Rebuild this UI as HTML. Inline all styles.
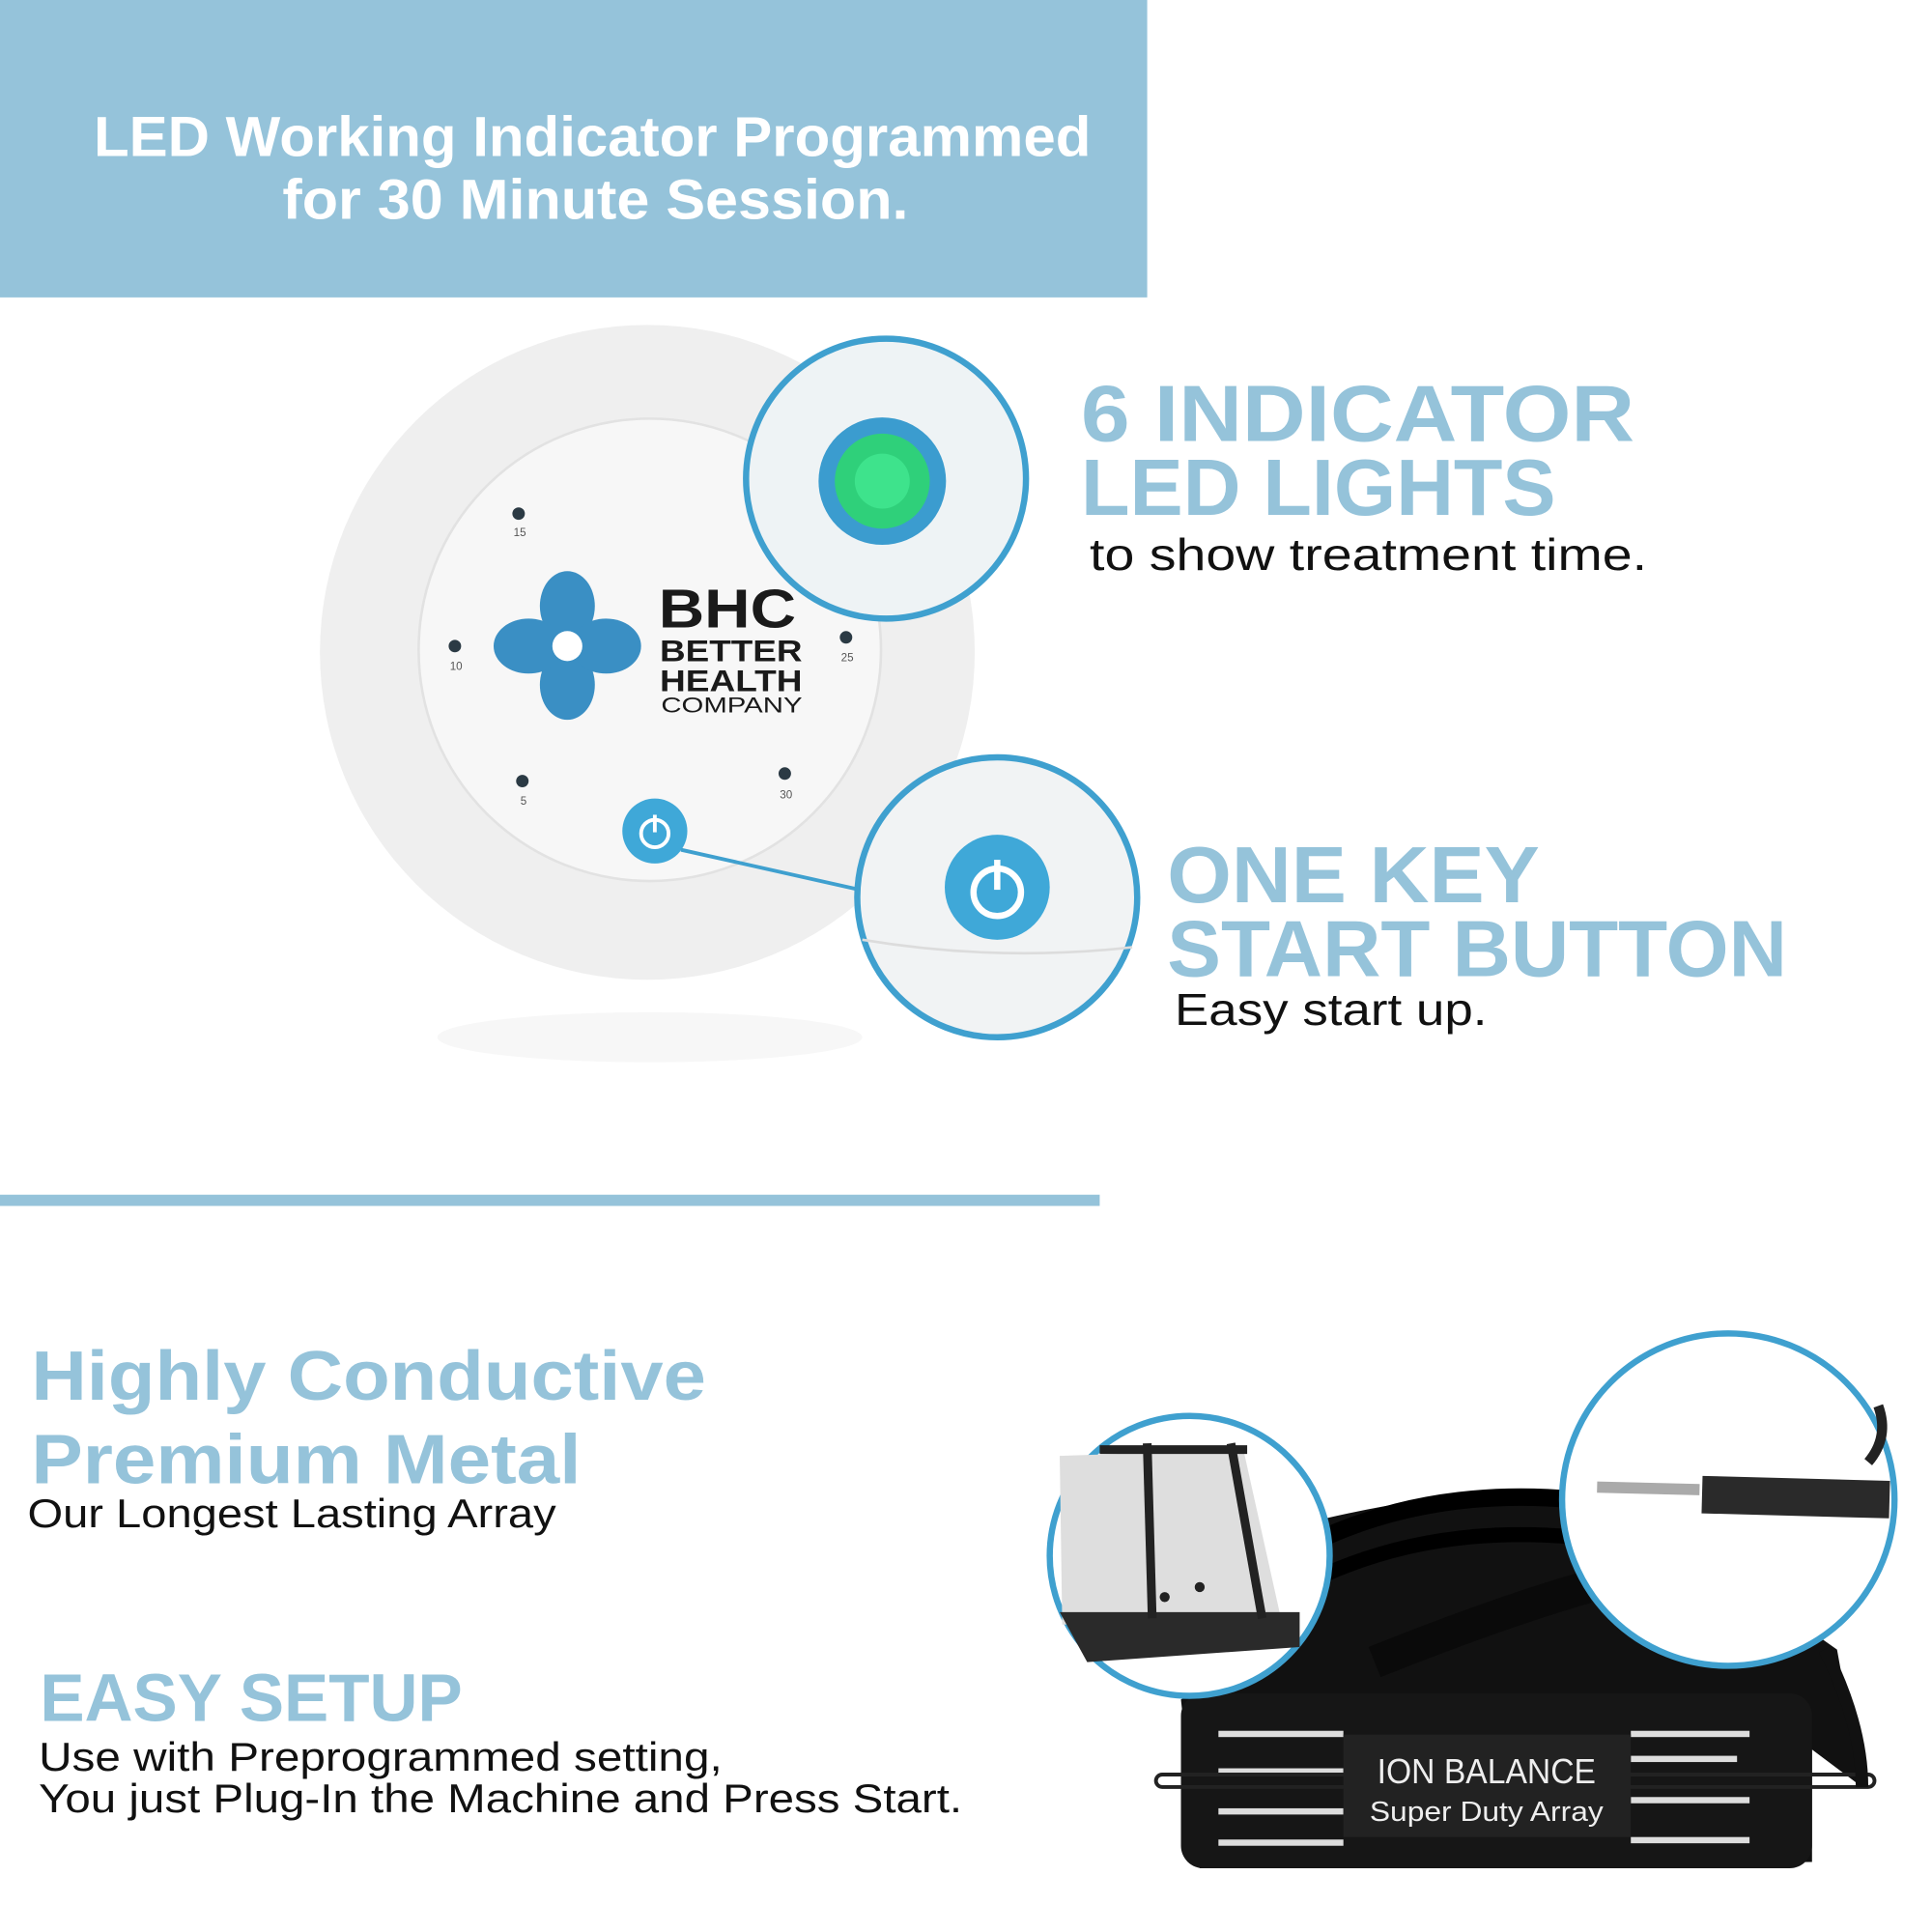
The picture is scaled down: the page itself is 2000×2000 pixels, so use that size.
<!DOCTYPE html>
<html><head><meta charset="utf-8"><style>
html,body{margin:0;padding:0;background:#fff;}
svg{display:block;}
text{font-family:"Liberation Sans",sans-serif;}
</style></head><body>
<svg width="2000" height="2000" viewBox="0 0 1546 1546" xmlns="http://www.w3.org/2000/svg">
<rect width="1546" height="1546" fill="#fff"/>
<rect x="0" y="0" width="918" height="238" fill="#95c3da"/>
<text x="75" y="125" font-size="45" font-weight="bold" fill="#fff" textLength="798" lengthAdjust="spacingAndGlyphs">LED Working Indicator Programmed</text>
<text x="226" y="175" font-size="45" font-weight="bold" fill="#fff" textLength="501" lengthAdjust="spacingAndGlyphs">for 30 Minute Session.</text>

<!-- device -->
<ellipse cx="520" cy="830" rx="170" ry="20" fill="#f7f7f7"/>
<circle cx="518" cy="522" r="262" fill="#efefef"/>
<circle cx="520" cy="520" r="185" fill="#f7f7f7" stroke="#e2e2e2" stroke-width="2"/>
<g fill="#2b3a44">
<circle cx="415" cy="411" r="5"/><circle cx="364" cy="517" r="5"/><circle cx="677" cy="510" r="5"/>
<circle cx="418" cy="625" r="5"/><circle cx="628" cy="619" r="5"/>
</g>
<g font-size="9" fill="#555" text-anchor="middle">
<text x="416" y="429">15</text><text x="365" y="536">10</text><text x="678" y="529">25</text>
<text x="419" y="644">5</text><text x="629" y="639">30</text>
</g>
<g fill="#3a8fc4">
<ellipse cx="454" cy="485" rx="22" ry="28"/>
<ellipse cx="454" cy="548" rx="22" ry="28"/>
<ellipse cx="423" cy="517" rx="28" ry="22"/>
<ellipse cx="485" cy="517" rx="28" ry="22"/>
</g>
<circle cx="454" cy="517" r="12" fill="#fff"/>
<text x="527" y="502" font-size="44" font-weight="bold" fill="#1a1a1a" textLength="110" lengthAdjust="spacingAndGlyphs">BHC</text>
<text x="528" y="529" font-size="24" font-weight="bold" fill="#1a1a1a" textLength="114" lengthAdjust="spacingAndGlyphs">BETTER</text>
<text x="528" y="553" font-size="24" font-weight="bold" fill="#1a1a1a" textLength="114" lengthAdjust="spacingAndGlyphs">HEALTH</text>
<text x="529" y="570" font-size="17" fill="#1a1a1a" textLength="113" lengthAdjust="spacingAndGlyphs">COMPANY</text>
<circle cx="524" cy="665" r="26" fill="#3fa8d8"/>
<circle cx="524" cy="667" r="11" fill="none" stroke="#fff" stroke-width="3"/>
<line x1="524" y1="652" x2="524" y2="666" stroke="#fff" stroke-width="3"/>
<line x1="545" y1="680" x2="688" y2="712" stroke="#3fa0cf" stroke-width="3"/>

<circle cx="709" cy="383" r="112" fill="#eef3f5" stroke="#3fa0cf" stroke-width="5"/>
<circle cx="706" cy="385" r="51" fill="#3b9ccf"/>
<circle cx="706" cy="385" r="38" fill="#2fd07a"/>
<circle cx="706" cy="385" r="22" fill="#3ee38c"/>
<circle cx="798" cy="718" r="112" fill="#f1f3f4" stroke="#3fa0cf" stroke-width="5"/>
<path d="M690 752 Q798 770 906 758" stroke="#dcdcdc" stroke-width="2" fill="none"/>
<circle cx="798" cy="710" r="42" fill="#3fa8d8"/>
<circle cx="798" cy="714" r="19" fill="none" stroke="#fff" stroke-width="5"/>
<line x1="798" y1="688" x2="798" y2="712" stroke="#fff" stroke-width="5"/>

<g font-weight="bold" fill="#95c3da" font-size="64">
<text x="865" y="353" textLength="443" lengthAdjust="spacingAndGlyphs">6 INDICATOR</text>
<text x="865" y="412" textLength="380" lengthAdjust="spacingAndGlyphs">LED LIGHTS</text>
<text x="934" y="722" textLength="298" lengthAdjust="spacingAndGlyphs">ONE KEY</text>
<text x="934" y="781" textLength="496" lengthAdjust="spacingAndGlyphs">START BUTTON</text>
</g>
<text x="872" y="456" font-size="36" fill="#111" textLength="446" lengthAdjust="spacingAndGlyphs">to show treatment time.</text>
<text x="940" y="820" font-size="36" fill="#111" textLength="250" lengthAdjust="spacingAndGlyphs">Easy start up.</text>

<rect x="0" y="956" width="880" height="9" fill="#95c3da"/>

<g font-weight="bold" fill="#95c3da">
<text x="25" y="1120" font-size="56" textLength="540" lengthAdjust="spacingAndGlyphs">Highly Conductive</text>
<text x="25" y="1187" font-size="56" textLength="440" lengthAdjust="spacingAndGlyphs">Premium Metal</text>
<text x="32" y="1377" font-size="54" textLength="338" lengthAdjust="spacingAndGlyphs">EASY SETUP</text>
</g>
<text x="22" y="1222" font-size="32" fill="#111" textLength="423" lengthAdjust="spacingAndGlyphs">Our Longest Lasting Array</text>
<text x="31" y="1417" font-size="32" fill="#111" textLength="547" lengthAdjust="spacingAndGlyphs">Use with Preprogrammed setting,</text>
<text x="31" y="1450" font-size="32" fill="#111" textLength="739" lengthAdjust="spacingAndGlyphs">You just Plug-In the Machine and Press Start.</text>

<!-- array -->
<path d="M1040 1220 Q1200 1180 1300 1200 L1470 1320 L1490 1430 L1450 1400 L1450 1490 L960 1495 L945 1360 L1040 1300 Z" fill="#111"/>
<rect x="945" y="1355" width="505" height="140" rx="18" fill="#161616"/>
<g fill="#ddd">
<rect x="975" y="1385" width="100" height="5"/><rect x="1305" y="1385" width="95" height="5"/>
<rect x="975" y="1415" width="100" height="5"/><rect x="1305" y="1405" width="85" height="5"/>
<rect x="975" y="1447" width="100" height="5"/><rect x="1305" y="1438" width="95" height="5"/>
<rect x="975" y="1472" width="100" height="5"/><rect x="1305" y="1470" width="95" height="5"/>
</g>
<rect x="925" y="1420" width="575" height="10" rx="5" fill="none" stroke="#222" stroke-width="3"/>
<rect x="1075" y="1388" width="230" height="82" fill="#222"/>
<text x="1102" y="1427" font-size="28" fill="#eee" textLength="175" lengthAdjust="spacingAndGlyphs">ION BALANCE</text>
<text x="1096" y="1457" font-size="22" fill="#eee" textLength="187" lengthAdjust="spacingAndGlyphs">Super  Duty  Array</text>
<path d="M1060 1230 Q1150 1190 1260 1200" stroke="#000" stroke-width="14" fill="none"/>
<path d="M1060 1260 Q1150 1220 1260 1230" stroke="#000" stroke-width="12" fill="none"/>
<path d="M1100 1330 Q1200 1290 1270 1270" stroke="#0a0a0a" stroke-width="26" fill="none"/>
<path d="M1460 1320 Q1490 1380 1490 1430" stroke="#111" stroke-width="10" fill="none"/>

<circle cx="952" cy="1245" r="112" fill="#fff" stroke="#3fa0cf" stroke-width="5"/>
<path d="M848 1165 L995 1160 L1025 1295 L850 1300 Z" fill="#dedede"/>
<path d="M848 1290 L1040 1290 L1040 1318 L870 1330 Z" fill="#2a2a2a"/>
<line x1="918" y1="1155" x2="922" y2="1295" stroke="#222" stroke-width="7"/>
<line x1="985" y1="1155" x2="1010" y2="1295" stroke="#222" stroke-width="7"/>
<line x1="880" y1="1160" x2="998" y2="1160" stroke="#222" stroke-width="7"/>
<circle cx="960" cy="1270" r="4" fill="#222"/><circle cx="932" cy="1278" r="4" fill="#222"/>

<circle cx="1383" cy="1200" r="133" fill="#fff" stroke="#3fa0cf" stroke-width="5"/>
<path d="M1278 1190 L1360 1192" stroke="#aaa" stroke-width="9"/>
<path d="M1362 1196 L1512 1200" stroke="#2a2a2a" stroke-width="30"/>
<path d="M1495 1170 Q1512 1150 1503 1125" stroke="#222" stroke-width="8" fill="none"/>
</svg>
</body></html>
